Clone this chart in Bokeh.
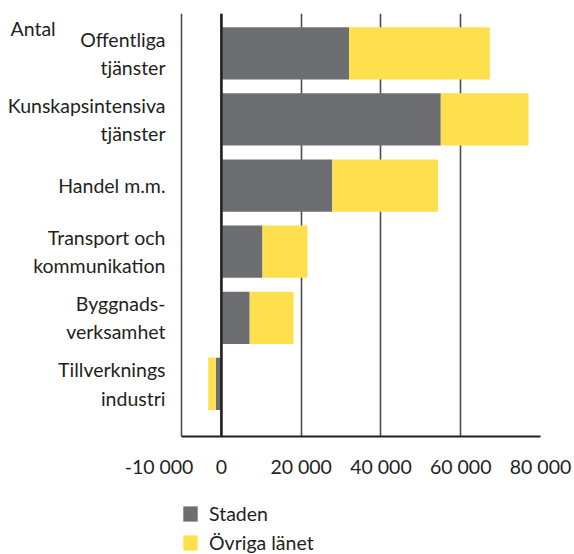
from bokeh.plotting import figure
from bokeh.layouts import column
from bokeh.models import FixedTicker, Range1d, Span, Label, Legend, LegendItem
from bokeh.core.properties import value
from bokeh.embed import file_html
from bokeh.resources import INLINE

categories = ["Offentliga\ntjänster", "Kunskapsintensiva\ntjänster", "Handel m.m.",
              "Transport och\nkommunikation", "Byggnads-\nverksamhet", "Tillverknings\nindustri"]
staden = [32000, 55000, 27800, 10300, 7100, -1400]
ovriga = [35300, 22000, 26500, 11300, 11000, -1900]
x_ticks = [-10000, 0, 20000, 40000, 60000, 80000]
x_tick_labels = ["-10 000" + "\u00a0" * 9, "0", "20 000", "40 000", "60 000", "80 000"]
series_names = ["Staden", "Övriga länet"]
unit_label = "Antal"

GRAY = "#6d6e71"
YELLOW = "#fee04e"
INK = "#231f20"
FONT = "Lato"
FS = "19.5px"

n = len(categories)
ypos = [n - 1 - i for i in range(n)]

p = figure(width=572, height=480, output_backend="svg", toolbar_location=None,
           x_range=Range1d(-55376, 80000), y_range=Range1d(-0.796, 5.603),
           y_axis_type=None,
           min_border_left=0, min_border_right=32, min_border_top=13, min_border_bottom=37)
p.outline_line_color = None

right2 = [a + b for a, b in zip(staden, ovriga)]
r1 = p.hbar(y=ypos, left=0, right=staden, height=0.79, fill_color=GRAY, line_color=None)
r2 = p.hbar(y=ypos, left=staden, right=right2, height=0.79, fill_color=YELLOW, line_color=None)

p.xaxis.ticker = FixedTicker(ticks=x_ticks)
p.xaxis.bounds = (x_ticks[0], x_ticks[-1])
p.xaxis.major_label_overrides = {t: l for t, l in zip(x_ticks, x_tick_labels)}
p.xaxis.major_label_text_font = FONT
p.xaxis.major_label_text_font_size = FS
p.xaxis.major_label_text_color = INK
p.xaxis.major_tick_line_color = None
p.xaxis.minor_tick_line_color = None
p.xaxis.axis_line_color = INK
p.xaxis.axis_line_width = 2
p.xaxis.major_label_standoff = 12

p.xgrid.ticker = FixedTicker(ticks=x_ticks)
p.xgrid.grid_line_color = "#4d4d4f"
p.xgrid.grid_line_width = 1.6
p.ygrid.grid_line_color = None

p.add_layout(Span(location=0, dimension="height", line_color=INK, line_width=2.5))

# category labels, right-aligned left of the -10 000 line
p.text(x=[x_ticks[0]] * n, y=ypos, text=categories, x_offset=-16,
       text_align="right", text_baseline="middle", text_line_height=1.23,
       text_font=value(FONT), text_font_size=FS, text_color=INK)

p.add_layout(Label(x=-55376, y=5.38, x_offset=10, text=unit_label, text_font=FONT,
                   text_font_size=FS, text_color=INK, text_baseline="alphabetic"))

# legend in a small figure underneath
q = figure(width=572, height=74, output_backend="svg", toolbar_location=None,
           x_range=Range1d(0, 1), y_range=Range1d(0, 1),
           x_axis_type=None, y_axis_type=None,
           min_border_left=0, min_border_right=0, min_border_top=0, min_border_bottom=0)
q.outline_line_color = None
q.xgrid.grid_line_color = None
q.ygrid.grid_line_color = None
l1 = q.hbar(y=[-5], left=[0], right=[0], height=0.1, fill_color=GRAY, line_color=None)
l2 = q.hbar(y=[-5], left=[0], right=[0], height=0.1, fill_color=YELLOW, line_color=None)

legend = Legend(items=[LegendItem(label=series_names[0], renderers=[l1]),
                       LegendItem(label=series_names[1], renderers=[l2])],
                location=(181, 0), orientation="vertical",
                padding=0, margin=0, spacing=6, border_line_color=None,
                background_fill_alpha=0, glyph_width=18, glyph_height=19,
                label_height=19, label_standoff=10,
                label_text_font=FONT, label_text_font_size=FS, label_text_color=INK)
q.add_layout(legend, "center")

layout = column(p, q, spacing=0)
open("out.html", "w").write(file_html(layout, INLINE))
